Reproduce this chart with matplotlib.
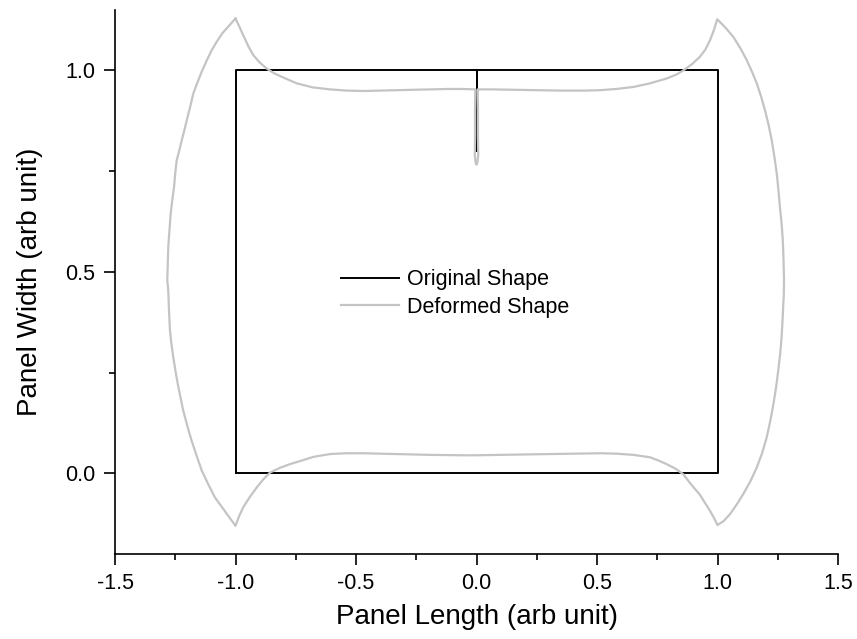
import matplotlib
matplotlib.use("Agg")
import matplotlib.pyplot as plt
from matplotlib.ticker import MultipleLocator

plt.rcParams['font.family'] = ['Liberation Sans', 'DejaVu Sans']

# Original shape (rectangle with a crack at the top centre)
orig_x = [-1.0, 1.0, 1.0, 0.0, 0.0, 0.0, -1.0, -1.0]
orig_y = [0.0, 0.0, 1.0, 1.0, 0.8, 1.0, 1.0, 0.0]

# Deformed shape (closed curve)
top_x = [-1.0, -0.985, -0.970, -0.945, -0.926, -0.900, -0.871, -0.840, -0.800, -0.746,
         -0.680, -0.608, -0.540, -0.470, -0.400, -0.331, -0.260, -0.193, -0.120, -0.055,
         -0.005, -0.006, -0.006, -0.007, -0.004, 0.0, 0.004, 0.007, 0.006, 0.006, 0.005,
         0.060, 0.150, 0.250, 0.350, 0.450, 0.512, 0.580, 0.651, 0.720, 0.789, 0.830,
         0.858, 0.895, 0.927, 0.950, 0.969, 0.985, 0.999]
top_y = [1.129, 1.110, 1.090, 1.058, 1.038, 1.020, 1.005, 0.993, 0.982, 0.968,
         0.958, 0.953, 0.950, 0.949, 0.950, 0.951, 0.952, 0.953, 0.954, 0.954,
         0.953, 0.900, 0.840, 0.790, 0.772, 0.766, 0.772, 0.790, 0.840, 0.900, 0.953,
         0.953, 0.952, 0.951, 0.950, 0.950, 0.951, 0.954, 0.959, 0.968, 0.980, 0.990,
         1.000, 1.016, 1.034, 1.052, 1.075, 1.100, 1.127]
right_x = [1.035, 1.066, 1.095, 1.121, 1.143, 1.163, 1.181, 1.197, 1.212, 1.225, 1.236,
           1.246, 1.253, 1.259, 1.266, 1.271, 1.274, 1.276, 1.275, 1.273, 1.270, 1.266,
           1.260, 1.252, 1.243, 1.232, 1.219, 1.204, 1.185, 1.163, 1.137, 1.107, 1.080,
           1.052, 1.026, 1.000]
right_y = [1.105, 1.083, 1.055, 1.026, 0.997, 0.968, 0.935, 0.901, 0.865, 0.827, 0.786,
           0.744, 0.702, 0.661, 0.620, 0.578, 0.530, 0.479, 0.440, 0.421, 0.380, 0.338,
           0.297, 0.255, 0.213, 0.172, 0.130, 0.089, 0.050, 0.015, -0.019, -0.051, -0.077,
           -0.101, -0.118, -0.128]
bottom_x = [0.985, 0.969, 0.948, 0.927, 0.906, 0.886, 0.858, 0.825, 0.789, 0.755, 0.720,
            0.651, 0.580, 0.512, 0.400, 0.300, 0.200, 0.100, 0.0, -0.055, -0.193, -0.331,
            -0.470, -0.540, -0.608, -0.677, -0.730, -0.774, -0.815, -0.857, -0.885, -0.912,
            -0.940, -0.968, -0.985, -1.000]
bottom_y = [-0.110, -0.093, -0.073, -0.053, -0.038, -0.024, -0.002, 0.012, 0.023, 0.032, 0.040,
            0.046, 0.049, 0.050, 0.049, 0.048, 0.047, 0.046, 0.045, 0.045, 0.046, 0.048,
            0.050, 0.050, 0.048, 0.041, 0.031, 0.023, 0.014, 0.002, -0.015, -0.035,
            -0.058, -0.084, -0.106, -0.130]
left_x = [-1.040, -1.085, -1.113, -1.140, -1.162, -1.182, -1.200, -1.217, -1.227, -1.237,
          -1.248, -1.258, -1.266, -1.272, -1.276, -1.279, -1.283, -1.281, -1.279, -1.274,
          -1.269, -1.262, -1.255, -1.250, -1.244, -1.233, -1.223, -1.212, -1.202, -1.188,
          -1.175, -1.158, -1.140, -1.120, -1.099, -1.077, -1.055, -1.028, -1.000]
left_y = [-0.097, -0.060, -0.027, 0.007, 0.045, 0.081, 0.118, 0.156, 0.185, 0.214,
          0.250, 0.288, 0.322, 0.355, 0.405, 0.454, 0.479, 0.520, 0.562, 0.605,
          0.645, 0.680, 0.711, 0.745, 0.777, 0.802, 0.827, 0.852, 0.877, 0.910,
          0.943, 0.970, 0.997, 1.024, 1.050, 1.072, 1.092, 1.110, 1.129]

def_x = top_x + right_x + bottom_x + left_x
def_y = top_y + right_y + bottom_y + left_y

fig = plt.figure(figsize=(8.57, 6.39), dpi=100)
ax = fig.add_axes([115/857, (639-554)/639, (838-115)/857, (554-10)/639])

ax.plot(orig_x, orig_y, color='black', lw=1.4, label='Original Shape', zorder=2)
ax.plot(def_x, def_y, color='#c4c4c4', lw=1.6, label='Deformed Shape', zorder=3)

ax.set_xlim(-1.5, 1.5)
ax.set_ylim(-0.2, 1.15)
ax.spines['top'].set_visible(False)
ax.spines['right'].set_visible(False)
for s in ('left', 'bottom'):
    ax.spines[s].set_linewidth(1.2)

ax.xaxis.set_major_locator(MultipleLocator(0.5))
ax.xaxis.set_minor_locator(MultipleLocator(0.25))
ax.yaxis.set_major_locator(MultipleLocator(0.5))
ax.yaxis.set_minor_locator(MultipleLocator(0.25))
ax.xaxis.set_major_formatter(plt.FuncFormatter(lambda v, p: f"{v:.1f}"))
ax.yaxis.set_major_formatter(plt.FuncFormatter(lambda v, p: f"{v:.1f}"))
ax.tick_params(which='major', direction='out', length=8, width=1.2, labelsize=15.5, pad=6)
ax.tick_params(which='minor', direction='out', length=4.5, width=1.2)

ax.set_xlabel('Panel Length (arb unit)', fontsize=20, labelpad=7)
ax.set_ylabel('Panel Width (arb unit)', fontsize=20, labelpad=16)

ax.legend(loc='center left', bbox_to_anchor=((341-115)/723, (554-293.5)/544),
          bbox_transform=ax.transAxes, frameon=False, fontsize=15.5,
          handlelength=2.7, handletextpad=0.35, borderpad=0, borderaxespad=0,
          labelspacing=0.3)

fig.savefig('out.png', dpi=100)
